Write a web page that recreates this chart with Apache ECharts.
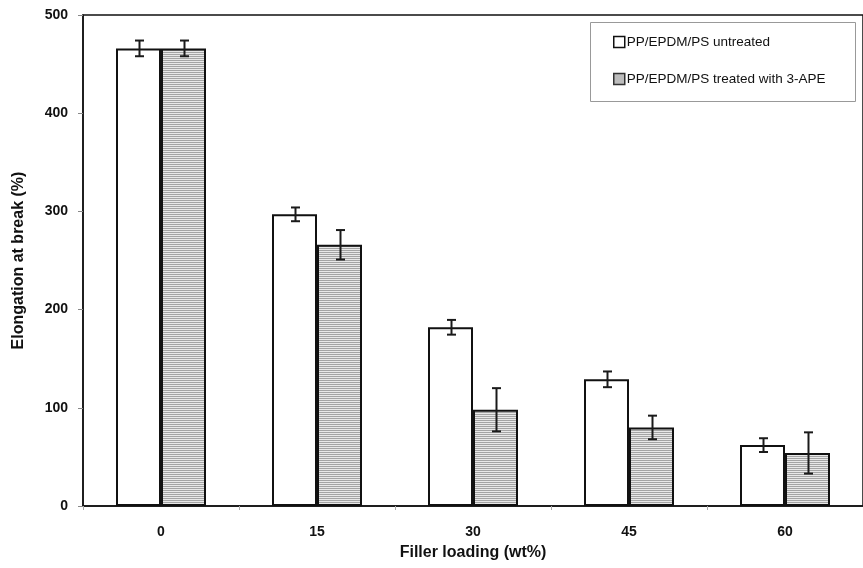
<!DOCTYPE html>
<html>
<head>
<meta charset="utf-8">
<script src="https://cdn.jsdelivr.net/npm/echarts@6/dist/echarts.min.js"></script>
<style>
  html, body { margin: 0; padding: 0; background: #fff; }
  #chart { width: 863px; height: 568px; }
</style>
</head>
<body>
<div id="chart"></div>
<script>
// Filler loading levels (wt%)
const categories = ['0', '15', '30', '45', '60'];

// Elongation at break (%) and standard deviations
const untreated = [466, 297, 182, 129, 62];
const untreatedErr = [8, 7, 7.5, 8, 7];
const treated = [466, 266, 98, 80, 54];
const treatedErr = [8, 15, 22, 12, 21];

const seriesNames = ['PP/EPDM/PS untreated', 'PP/EPDM/PS treated with 3-APE'];
const yTicks = { min: 0, max: 500, interval: 100 };

const FONT = '"Liberation Sans", Arial, sans-serif';
const BAR_W = 45;

// Horizontal line fill for the treated bars
function stripePattern() {
  const c = document.createElement('canvas');
  c.width = 4; c.height = 2;
  const ctx = c.getContext('2d');
  ctx.fillStyle = '#e8e8e8';
  ctx.fillRect(0, 0, 4, 2);
  ctx.fillStyle = '#a4a4a4';
  ctx.fillRect(0, 0, 4, 1);
  return c;
}
const stripes = { image: stripePattern(), repeat: 'repeat' };

function errorBarSeries(values, errs, offset) {
  return {
    type: 'custom',
    silent: true,
    z: 5,
    data: values.map((v, i) => [i, v - errs[i], v + errs[i]]),
    renderItem: function (params, api) {
      const lo = api.coord([api.value(0), api.value(1)]);
      const hi = api.coord([api.value(0), api.value(2)]);
      const x = Math.round(lo[0] + offset) + 0.5;
      const cap = 4.5;
      const style = { stroke: '#1a1a1a', lineWidth: 2 };
      return {
        type: 'group',
        children: [
          { type: 'line', shape: { x1: x, y1: hi[1], x2: x, y2: lo[1] }, style: style },
          { type: 'line', shape: { x1: x - cap, y1: hi[1], x2: x + cap, y2: hi[1] }, style: style },
          { type: 'line', shape: { x1: x - cap, y1: lo[1], x2: x + cap, y2: lo[1] }, style: style }
        ]
      };
    }
  };
}

const chart = echarts.init(document.getElementById('chart'), null, { renderer: 'canvas' });

chart.setOption({
  animation: false,
  backgroundColor: '#fff',
  textStyle: { fontFamily: FONT },
  grid: {
    left: 83, top: 15, width: 783, bottom: 62,
    show: true, borderColor: '#111', borderWidth: 1.5, backgroundColor: 'transparent'
  },
  graphic: [{
    type: 'rect',
    left: 590, top: 22,
    shape: { width: 265, height: 79 },
    style: { fill: '#fff', stroke: '#999', lineWidth: 1 },
    z: 10
  }],
  legend: {
    orient: 'vertical',
    left: 608, top: 30,
    itemWidth: 11, itemHeight: 11,
    itemGap: 23,
    z: 20,
    textStyle: { fontFamily: FONT, fontSize: 13.5, color: '#111', padding: [0, 0, 0, -3] },
    data: [
      { name: seriesNames[0], icon: 'rect', itemStyle: { color: '#fff', borderColor: '#111', borderWidth: 1.5 } },
      { name: seriesNames[1], icon: 'rect', itemStyle: { color: '#bdbdbd', borderColor: '#333', borderWidth: 1.5 } }
    ]
  },
  xAxis: {
    type: 'category',
    data: categories,
    name: 'Filler loading (wt%)',
    nameLocation: 'middle',
    nameGap: 39,
    nameTextStyle: { fontFamily: FONT, fontSize: 16, fontWeight: 'bold', color: '#111' },
    axisLine: { lineStyle: { color: '#111', width: 1.5 } },
    axisTick: { show: true, length: 4, lineStyle: { color: '#aaa' } },
    axisLabel: { fontFamily: FONT, fontSize: 14, fontWeight: 'bold', color: '#111', margin: 19 }
  },
  yAxis: {
    type: 'value',
    min: yTicks.min, max: yTicks.max, interval: yTicks.interval,
    name: 'Elongation at break (%)',
    nameLocation: 'middle',
    nameGap: 56,
    nameTextStyle: { fontFamily: FONT, fontSize: 16, fontWeight: 'bold', color: '#111' },
    axisLine: { show: true, lineStyle: { color: '#111', width: 1.5 } },
    axisTick: { show: true, length: 5, lineStyle: { color: '#888' } },
    axisLabel: { fontFamily: FONT, fontSize: 14, fontWeight: 'bold', color: '#111', margin: 15 },
    splitLine: { show: false }
  },
  series: [
    {
      name: seriesNames[0],
      type: 'bar',
      data: untreated,
      barWidth: BAR_W,
      barGap: '0%',
      itemStyle: { color: '#fff', borderColor: '#111', borderWidth: 2 }
    },
    {
      name: seriesNames[1],
      type: 'bar',
      data: treated,
      barWidth: BAR_W,
      barGap: '0%',
      itemStyle: { color: stripes, borderColor: '#111', borderWidth: 2 }
    },
    errorBarSeries(untreated, untreatedErr, -BAR_W / 2),
    errorBarSeries(treated, treatedErr, BAR_W / 2)
  ]
});
</script>
</body>
</html>
